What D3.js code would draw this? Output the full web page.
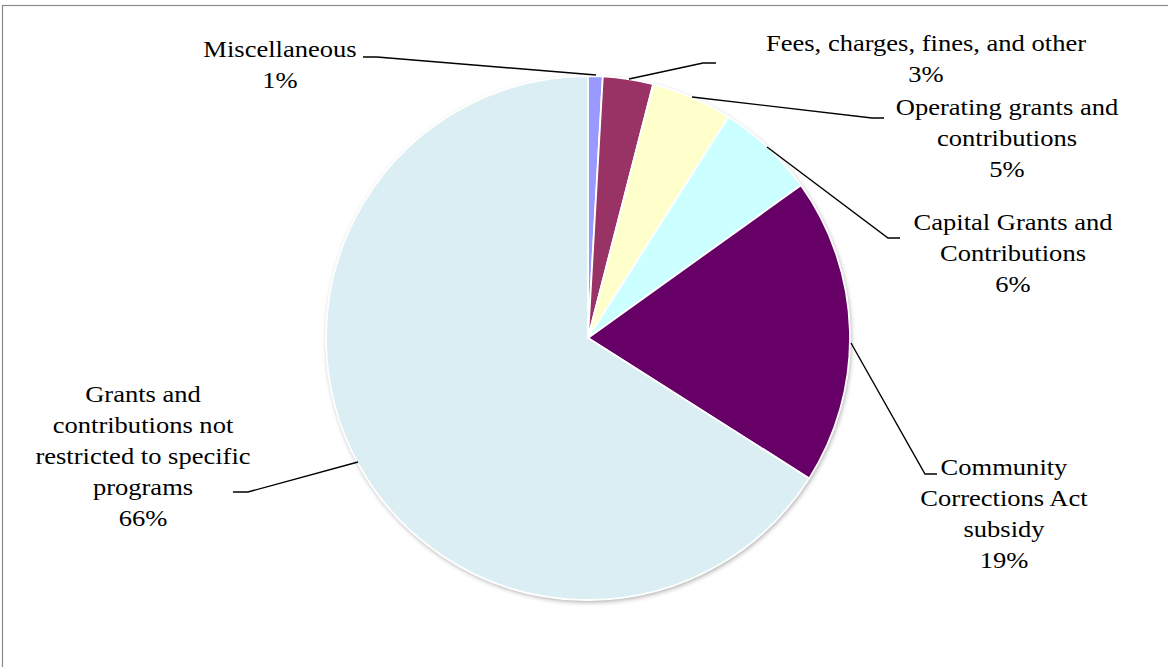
<!DOCTYPE html>
<html>
<head>
<meta charset="utf-8">
<script src="https://cdn.jsdelivr.net/npm/d3@7"></script>
<style>
  html, body { margin: 0; padding: 0; background: #fff; }
  svg { display: block; }
  text { font-family: "Liberation Serif", "Times New Roman", serif; fill: #000; }
</style>
</head>
<body>
<svg id="chart" width="1168" height="667"></svg>
<script>
// ---- Data ----
const categories = [
  "Miscellaneous",
  "Fees, charges, fines, and other",
  "Operating grants and contributions",
  "Capital Grants and Contributions",
  "Community Corrections Act subsidy",
  "Grants and contributions not restricted to specific programs"
];
const values = [0.9, 3.1, 5.0, 6.1, 18.9, 66.0];
const percentLabels = ["1%", "3%", "5%", "6%", "19%", "66%"];
const labelLines = [
  ["Miscellaneous"],
  ["Fees, charges, fines, and other"],
  ["Operating grants and", "contributions"],
  ["Capital Grants and", "Contributions"],
  ["Community", "Corrections Act", "subsidy"],
  ["Grants and", "contributions not", "restricted to specific", "programs"]
];
const colors = ["#9999ff", "#993366", "#ffffcc", "#ccffff", "#660066", "#dbeef4"];

// ---- Layout (styling/positions) ----
const cx = 588, cy = 338, R = 262;
const labelPos = [
  { x: 280, y: 57 },
  { x: 926, y: 51 },
  { x: 1007, y: 115 },
  { x: 1013, y: 230 },
  { x: 1004, y: 475 },
  { x: 143, y: 402 }
];
const leaders = [
  [[596, 75], [377, 57], [363, 57]],
  [[629, 79], [703, 63], [716, 63]],
  [[692, 97], [872, 118], [884, 118]],
  [[767, 147], [888, 238], [900, 238]],
  [[851, 343], [925, 474], [937, 474]],
  [[358, 462], [248, 492], [233, 492]]
];
const lineH = 31, fontSize = 22.5, sx = 1.18;

const svg = d3.select("#chart");

// frame
svg.append("rect")
  .attr("x", 2.5).attr("y", 5.5).attr("width", 1300).attr("height", 800)
  .attr("fill", "none").attr("stroke", "#8a8a8a").attr("stroke-width", 1.2);

// shadow filter
const defs = svg.append("defs");
const f = defs.append("filter").attr("id", "sh").attr("x", "-10%").attr("y", "-10%").attr("width", "120%").attr("height", "120%");
f.append("feGaussianBlur").attr("in", "SourceAlpha").attr("stdDeviation", 2.5).attr("result", "b");
f.append("feOffset").attr("in", "b").attr("dx", 1).attr("dy", 1.5).attr("result", "o");
f.append("feComponentTransfer").attr("in", "o").attr("result", "o2")
  .append("feFuncA").attr("type", "linear").attr("slope", 0.35);
const m = f.append("feMerge");
m.append("feMergeNode").attr("in", "o2");
m.append("feMergeNode").attr("in", "SourceGraphic");

const pie = d3.pie().sort(null).value(d => d)(values);
const arc = d3.arc().innerRadius(0).outerRadius(R);

const g = svg.append("g").attr("transform", `translate(${cx},${cy})`);
g.append("circle").attr("r", R).attr("fill", "#fff").attr("filter", "url(#sh)");
g.selectAll("path.slice").data(pie).enter().append("path")
  .attr("class", "slice")
  .attr("d", arc)
  .attr("fill", (d, i) => colors[i])
  .attr("stroke", "#ffffff")
  .attr("stroke-width", 1.8)
  .attr("stroke-linejoin", "round");

// leader lines
const line = d3.line();
svg.selectAll("path.leader").data(leaders).enter().append("path")
  .attr("class", "leader")
  .attr("d", d => line(d))
  .attr("fill", "none").attr("stroke", "#000").attr("stroke-width", 1.4);

// labels
labelPos.forEach((p, i) => {
  const lines = labelLines[i].concat([percentLabels[i]]);
  const t = svg.append("g").attr("transform", `translate(${p.x},${p.y}) scale(${sx},1)`)
    .append("text").attr("text-anchor", "middle").style("font-size", fontSize + "px");
  lines.forEach((s, k) => {
    t.append("tspan").attr("x", 0).attr("y", k * lineH).text(s);
  });
});
</script>
</body>
</html>
